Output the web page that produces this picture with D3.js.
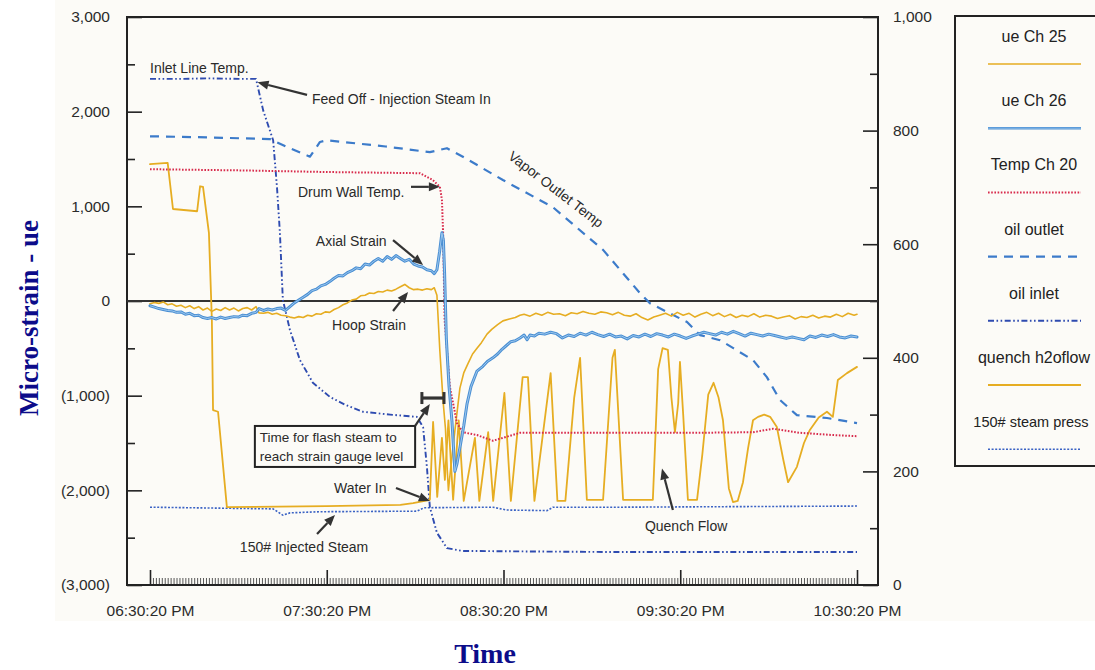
<!DOCTYPE html>
<html>
<head>
<meta charset="utf-8">
<script src="https://cdn.jsdelivr.net/npm/d3@7"></script>
<style>
  body { margin: 0; background: #ffffff; }
  svg text { font-family: "Liberation Sans", Arial, Helvetica, sans-serif; }
</style>
</head>
<body>
<svg id="chart" width="1095" height="670"></svg>
<script>
// ---- Time axis (minutes after 06:30:20 PM) ----
const timeTicks = [0, 60, 120, 180, 240];
const timeLabels = ["06:30:20 PM", "07:30:20 PM", "08:30:20 PM", "09:30:20 PM", "10:30:20 PM"];

// ---- Left axis: micro-strain ----
const strainTicks = [-3000, -2000, -1000, 0, 1000, 2000, 3000];
const strainLabels = ["(3,000)", "(2,000)", "(1,000)", "0", "1,000", "2,000", "3,000"];
const strainMinor = [-2500, -1500, -500, 500, 1500, 2500];

// ---- Right axis: temperature / flow / pressure ----
const rightTicks = [0, 200, 400, 600, 800, 1000];
const rightLabels = ["0", "200", "400", "600", "800", "1,000"];
const rightMinor = [100, 300, 500, 700, 900];

// ---- Series: [minutes, value] ----
// ue Ch 25 (hoop strain, left axis)
const ueCh25 = [[0,-30],[1.5,-15],[3,-25],[4.5,-10],[6,-40],[7.5,-30],[9,-55],[10.5,-45],[12,-70],[13.5,-50],[15,-80],[16.5,-60],[18,-95],[19.5,-75],[21,-110],[22.5,-85],[24,-100],[25.5,-70],[27,-95],[28.5,-75],[30,-105],[31.5,-80],[33,-70],[34.5,-95],[36,-60],[37,-125],[38.5,-130],[40,-120],[41.5,-140],[43,-130],[44.5,-150],[46,-155],[47.5,-170],[49,-180],[50.5,-165],[52,-175],[53.5,-150],[55,-160],[56.5,-135],[58,-140],[59.5,-115],[61,-120],[62.5,-90],[64,-70],[65.5,-40],[67,-20],[68.5,10],[70,20],[71.5,55],[73,60],[74.5,85],[76,80],[77.5,100],[79,95],[80.5,115],[82,105],[83.5,125],[85,150],[86.5,175],[88,140],[89.5,120],[91,125],[92.5,115],[94,130],[95.5,120],[96.5,140],[97.4,60],[98.4,-530],[99.5,-1060],[100.3,-1350],[100.9,-1780],[101.3,-2000],[102.3,-1700],[103.5,-1370],[105.2,-920],[106.5,-760],[107.9,-665],[109.5,-560],[111,-500],[112.5,-440],[114.4,-350],[116,-300],[118,-250],[119.8,-210],[122,-190],[124,-175],[125.6,-150],[127,-140],[129,-160],[131,-130],[133,-150],[135,-120],[137,-140],[139,-135],[141,-155],[143,-125],[145,-135],[147,-110],[149,-130],[151,-140],[153,-115],[155,-125],[157,-145],[159,-120],[161,-150],[163,-160],[165,-135],[167,-175],[169,-200],[171,-170],[173,-150],[175,-130],[177,-160],[179,-120],[181,-150],[183,-130],[185,-170],[187,-140],[189,-120],[191,-155],[193,-130],[195,-165],[197,-140],[199,-175],[201,-150],[203,-165],[205,-135],[207,-170],[209,-150],[211,-160],[213,-185],[215,-170],[217,-155],[219,-190],[221,-165],[223,-175],[225,-150],[227,-180],[229,-160],[231,-170],[233,-140],[235,-165],[237,-130],[239,-150],[240,-140]];

// ue Ch 26 (axial strain, left axis)
const ueCh26 = [[0,-50],[1.5,-65],[3,-80],[4.5,-90],[6,-100],[7.5,-105],[9,-120],[10.5,-115],[12,-140],[13.5,-130],[15,-155],[16.5,-150],[18,-175],[19.5,-185],[21,-175],[22.5,-190],[24,-170],[25.5,-185],[27,-175],[28.5,-165],[30,-170],[31.5,-150],[33,-155],[34.5,-130],[36,-120],[37,-80],[38.5,-100],[40,-85],[41.5,-95],[43,-80],[44.5,-75],[46,-100],[47.5,-60],[49,-20],[50.5,10],[52,40],[53.5,70],[55,110],[56.5,125],[58,160],[59.5,175],[61,205],[62.5,240],[64,270],[65.5,265],[67,300],[68.5,320],[70,350],[71.5,340],[73,390],[74.5,380],[76,420],[77.5,450],[79,420],[80.5,470],[82,440],[83.5,480],[85,450],[86.5,420],[88,440],[89.5,390],[91,370],[92.5,360],[94,330],[95.5,320],[96.5,290],[97.4,330],[98.3,520],[99.1,720],[99.6,640],[100,300],[100.6,-400],[101.5,-900],[102.5,-1270],[103.5,-1800],[104.2,-1720],[105.2,-1550],[106.5,-1320],[107.6,-1090],[109,-900],[111,-740],[113,-690],[114.5,-640],[116.4,-600],[118,-560],[119.5,-510],[121,-470],[122.5,-430],[124,-420],[125.6,-390],[127,-360],[128,-410],[129,-360],[130.5,-370],[132,-340],[134,-350],[136,-330],[138,-345],[140,-390],[142,-360],[144,-375],[146,-340],[148,-360],[150,-330],[152,-355],[154,-375],[156,-350],[158,-380],[160,-370],[162,-400],[164,-365],[166,-380],[168,-350],[170,-375],[172,-345],[174,-360],[176,-380],[178,-350],[180,-370],[182,-395],[184,-370],[186,-350],[188,-330],[190,-345],[192,-360],[194,-330],[196,-350],[198,-320],[200,-345],[202,-370],[204,-340],[206,-355],[208,-370],[210,-350],[212,-365],[214,-380],[216,-395],[218,-380],[220,-395],[222,-410],[224,-370],[226,-385],[228,-360],[230,-375],[232,-355],[234,-380],[236,-390],[238,-370],[240,-380]];

// Temp Ch 20 (drum wall temperature, right axis)
const tempCh20 = [[0,732],[30,730],[61,727],[91.6,725],[96,713],[98.4,701],[99.1,678],[99.5,620],[100,467],[101.8,349],[104.2,285],[106.2,269],[111,264],[116.4,254],[119.8,259],[125.6,268],[133.4,268],[142.6,268],[160,268],[186.7,268],[204.7,269],[211.5,275],[220.6,268],[231.8,264],[240,262]];

// oil outlet (vapor outlet temperature, right axis)
const oilOutlet = [[0,790],[20,788],[40.7,785],[47,770],[54.3,754],[57.7,780],[60,783],[80,772],[95,762],[100.8,769],[106.2,754],[119.8,713],[136.8,665],[153.8,590],[166.3,514],[169.7,496],[182.3,463],[186.7,440],[193.5,431],[198,417],[204.7,396],[209.4,366],[213.8,326],[219.6,299],[229.8,294],[240,285]];

// oil inlet (inlet line temperature, right axis)
const oilInlet = [[0,891],[10,891],[20,892],[30,891],[36,891],[36.3,884],[38.4,836],[41.8,783],[43.1,701],[44.1,620],[45.1,502],[47.5,449],[50.9,396],[55.3,356],[61.1,331],[66,318],[72.3,305],[81.5,300],[90.6,296],[92.7,278],[94,208],[95,137],[97.4,92],[100.8,65],[106,60],[130,59],[160,58],[200,58],[240,58]];

// quench h2oflow (right axis)
const quenchFlow = [[0,741],[6,743],[7.8,662],[16,658],[17,702],[18,701],[20,620],[21,467],[21.4,308],[23.1,305],[26.1,137],[60,139],[85,141],[89.3,144],[95,150],[96.1,287],[97.5,155],[99.1,259],[100.1,185],[101.3,290],[102.9,150],[104.8,290],[106.5,148],[110.3,259],[111.8,148],[114.8,269],[116.5,148],[120.3,338],[122.5,148],[126.5,366],[128.3,366],[130.5,148],[136,373],[138.3,148],[141,148],[144,330],[146,400],[148.3,150],[153.8,150],[157,400],[157.8,414],[160.6,150],[170.7,150],[172.5,380],[174,417],[175.8,414],[177,330],[178.2,269],[179.3,320],[179.9,393],[181,300],[182.6,150],[185.7,150],[187.5,230],[189.5,335],[191.3,356],[193,330],[194.5,290],[196.5,170],[197.9,146],[199.5,148],[201.3,181],[203,240],[204.7,290],[206.4,296],[208.5,300],[210.5,296],[212.8,278],[215,220],[216.6,181],[219.6,208],[222,250],[224,273],[227,295],[229.8,305],[231.8,296],[233.5,361],[236.6,373],[240,384]];

// 150# steam press (right axis)
const steamPress = [[0,137],[41.8,134],[45.1,123],[47.5,127],[57.7,129],[90.6,130],[93,136],[116.4,137],[121,132],[134.8,131],[136.8,137],[160,137],[240,139]];

// ---- Legend entries (drawing order of the legend) ----
const legendNames = ["ue Ch 25", "ue Ch 26", "Temp Ch 20", "oil outlet", "oil inlet", "quench h2oflow", "150# steam press"];

// ---- Styles ----
const styles = {
  "ue Ch 25":        { color: "#e6ad22", width: 1.6, dash: null },
  "ue Ch 26":        { color: "#4a8fd3", width: 3.0, dash: null, inner: "#9cc7ee" },
  "Temp Ch 20":      { color: "#d82b4c", width: 2.0, dash: "1.6,1.6" },
  "oil outlet":      { color: "#3c7bca", width: 2.2, dash: "9,7" },
  "oil inlet":       { color: "#2e4bb0", width: 1.9, dash: "6,2.5,1.6,2.5,1.6,2.5" },
  "quench h2oflow":  { color: "#e6ad22", width: 1.8, dash: null },
  "150# steam press":{ color: "#3a62c4", width: 1.6, dash: "2,1.6" }
};

const svg = d3.select("#chart");

// scanned-page backdrop
svg.append("rect").attr("x", 55).attr("y", 0).attr("width", 1040).attr("height", 621).attr("fill", "#fcfbf7");

const x = d3.scaleLinear().domain([0, 240]).range([150, 857]);
const yL = d3.scaleLinear().domain([-3000, 3000]).range([585, 17]);
const yR = d3.scaleLinear().domain([0, 1000]).range([585, 17]);

const plot = { left: 127, right: 878, top: 17, bottom: 585 };
const axisColor = "#222";

// ---- Axes ----
function styleAxis(g, fontSize) {
  g.select(".domain").remove();
  g.selectAll(".tick line").attr("stroke", axisColor).attr("stroke-width", 1.6);
  g.selectAll(".tick text").attr("fill", "#2b2b2b").style("font-size", fontSize + "px")
   .style("font-family", "'Liberation Sans', Arial, sans-serif");
}

const gL = svg.append("g").attr("transform", `translate(${plot.left},0)`)
  .call(d3.axisLeft(yL).tickValues(strainTicks).tickSize(-15).tickPadding(17)
    .tickFormat((d, i) => strainLabels[i]));
styleAxis(gL, 15.5);
const gLm = svg.append("g").attr("transform", `translate(${plot.left},0)`)
  .call(d3.axisLeft(yL).tickValues(strainMinor).tickSize(-8).tickFormat(""));
styleAxis(gLm, 1);

const gR = svg.append("g").attr("transform", `translate(${plot.right},0)`)
  .call(d3.axisRight(yR).tickValues(rightTicks).tickSize(-15).tickPadding(15)
    .tickFormat((d, i) => rightLabels[i]));
styleAxis(gR, 15.5);
const gRm = svg.append("g").attr("transform", `translate(${plot.right},0)`)
  .call(d3.axisRight(yR).tickValues(rightMinor).tickSize(-8).tickFormat(""));
styleAxis(gRm, 1);

const gB = svg.append("g").attr("transform", `translate(0,${plot.bottom})`)
  .call(d3.axisBottom(x).tickValues(timeTicks).tickSize(-15).tickPadding(20)
    .tickFormat((d, i) => timeLabels[i]));
styleAxis(gB, 15.5);
const minuteTicks = d3.range(0, 241, 1).filter(m => m % 60 !== 0);
const gBm = svg.append("g").attr("transform", `translate(0,${plot.bottom})`)
  .call(d3.axisBottom(x).tickValues(minuteTicks).tickSize(-7).tickFormat(""));
styleAxis(gBm, 1);
gBm.selectAll(".tick line").attr("stroke-width", 0.9).attr("stroke", "#444");

// frame and zero line
svg.append("rect").attr("x", plot.left).attr("y", plot.top)
  .attr("width", plot.right - plot.left).attr("height", plot.bottom - plot.top)
  .attr("fill", "none").attr("stroke", axisColor).attr("stroke-width", 2);
svg.append("line").attr("x1", plot.left).attr("x2", plot.right)
  .attr("y1", yL(0)).attr("y2", yL(0)).attr("stroke", "#333").attr("stroke-width", 2);

// ---- Series lines ----
function drawSeries(data, yScale, name) {
  const s = styles[name];
  const line = d3.line().x(d => x(d[0])).y(d => yScale(d[1])).curve(d3.curveLinear);
  const p = svg.append("path").datum(data).attr("d", line)
    .attr("fill", "none").attr("stroke", s.color).attr("stroke-width", s.width)
    .attr("stroke-linejoin", "round").attr("stroke-linecap", s.dash ? "butt" : "round");
  if (s.dash) p.attr("stroke-dasharray", s.dash);
  if (s.inner) {
    svg.append("path").datum(data).attr("d", line).attr("fill", "none")
      .attr("stroke", s.inner).attr("stroke-width", 1).attr("stroke-linejoin", "round");
  }
}

drawSeries(steamPress, yR, "150# steam press");
drawSeries(oilInlet, yR, "oil inlet");
drawSeries(oilOutlet, yR, "oil outlet");
drawSeries(quenchFlow, yR, "quench h2oflow");
drawSeries(ueCh25, yL, "ue Ch 25");
drawSeries(tempCh20, yR, "Temp Ch 20");
drawSeries(ueCh26, yL, "ue Ch 26");

// ---- Annotations ----
const noteColor = "#2a2a2a";
function note(txt, px, py, size, anchor) {
  return svg.append("text").attr("x", px).attr("y", py).text(txt)
    .attr("fill", noteColor).style("font-size", (size || 14) + "px")
    .attr("text-anchor", anchor || "start");
}
function arrow(x1, y1, x2, y2) {
  const ang = Math.atan2(y2 - y1, x2 - x1);
  const len = 11, hw = 4.5;
  const bx = x2 - len * Math.cos(ang), by = y2 - len * Math.sin(ang);
  svg.append("line").attr("x1", x1).attr("y1", y1).attr("x2", bx).attr("y2", by)
    .attr("stroke", "#333").attr("stroke-width", 2.2);
  const pts = [
    [x2, y2],
    [bx + hw * Math.sin(ang), by - hw * Math.cos(ang)],
    [bx - hw * Math.sin(ang), by + hw * Math.cos(ang)]
  ];
  svg.append("polygon").attr("points", pts.map(p => p.join(",")).join(" ")).attr("fill", "#333");
}

note("Inlet Line Temp.", x(0), yR(901), 14);
note("Feed Off - Injection Steam In", x(55), yR(847), 14);
arrow(x(53.3), yR(863), x(36.5), yR(885));

svg.append("text").text("Vapor Outlet Temp")
  .attr("transform", `translate(${x(136.8)},${yR(690)}) rotate(37.5)`)
  .attr("text-anchor", "middle").attr("fill", noteColor).style("font-size", "14px");

note("Drum Wall Temp.", x(50.2), yL(1095), 14);
arrow(x(88.6), yR(701), x(98.4), yR(701));

note("Axial Strain", x(56.3), yL(581), 14);
arrow(x(82.5), yL(644), x(92.7), yL(380));

note("Hoop Strain", x(61.8), yL(-306), 14);
arrow(x(82.5), yL(-106), x(87.6), yL(95));

// flash-steam box
const bx0 = x(35.6), bx1 = x(90), by0 = yL(-1320), by1 = yL(-1753);
svg.append("rect").attr("x", bx0).attr("y", by0).attr("width", bx1 - bx0).attr("height", by1 - by0)
  .attr("fill", "#fcfbf7").attr("stroke", "#222").attr("stroke-width", 2);
note("Time for flash steam to", bx0 + 5, by0 + 16, 13.5);
note("reach strain gauge level", bx0 + 5, by0 + 35, 13.5);
arrow(x(90), yL(-1320), x(95), yL(-1088));

// bracket marking the flash steam interval
const hy = yL(-1025);
svg.append("line").attr("x1", x(92.3)).attr("x2", x(99.8)).attr("y1", hy).attr("y2", hy)
  .attr("stroke", "#333").attr("stroke-width", 3.2);
[92.3, 99.8].forEach(t => {
  svg.append("line").attr("x1", x(t)).attr("x2", x(t)).attr("y1", hy - 6).attr("y2", hy + 6)
    .attr("stroke", "#333").attr("stroke-width", 3);
});

note("Water In", x(62.5), yL(-2028), 14);
arrow(x(83.5), yL(-1975), x(95), yL(-2113));

note("150# Injected Steam", x(30.5), yL(-2651), 14);
arrow(x(56.7), yL(-2461), x(62.8), yL(-2260));

note("Quench Flow", x(168), yR(95), 14);
arrow(x(177.5), yR(132), x(173.8), yR(205));

// ---- Axis titles ----
svg.append("text").text("Micro-strain - ue")
  .attr("transform", "translate(38,318) rotate(-90)")
  .attr("text-anchor", "middle").attr("fill", "#0c0c8a")
  .style("font-family", "'Liberation Serif', 'Times New Roman', serif")
  .style("font-weight", "bold").style("font-size", "27px");
svg.append("text").text("Time").attr("x", 485).attr("y", 663)
  .attr("text-anchor", "middle").attr("fill", "#0c0c8a")
  .style("font-family", "'Liberation Serif', 'Times New Roman', serif")
  .style("font-weight", "bold").style("font-size", "28px");

// ---- Legend ----
const legend = svg.append("g");
legend.append("rect").attr("x", 955).attr("y", 16).attr("width", 200).attr("height", 450)
  .attr("fill", "#fcfbf7").attr("stroke", "#222").attr("stroke-width", 2);
legendNames.forEach((name, i) => {
  const s = styles[name];
  const yText = 42 + i * 64.2;
  const yLine = 64 + i * 64.2;
  const long = name.length > 15;
  legend.append("text").attr("x", long ? 1031 : 1034).attr("y", yText).attr("text-anchor", "middle")
    .attr("fill", "#222").style("font-size", long ? "14.5px" : "16px").text(name);
  const l = legend.append("line").attr("x1", 988).attr("x2", 1081).attr("y1", yLine).attr("y2", yLine)
    .attr("stroke", s.color).attr("stroke-width", Math.min(s.width, 2.4));
  if (s.dash) l.attr("stroke-dasharray", s.dash);
  if (s.inner) legend.append("line").attr("x1", 988).attr("x2", 1081).attr("y1", yLine).attr("y2", yLine)
    .attr("stroke", s.inner).attr("stroke-width", 0.8);
});
</script>
</body>
</html>
